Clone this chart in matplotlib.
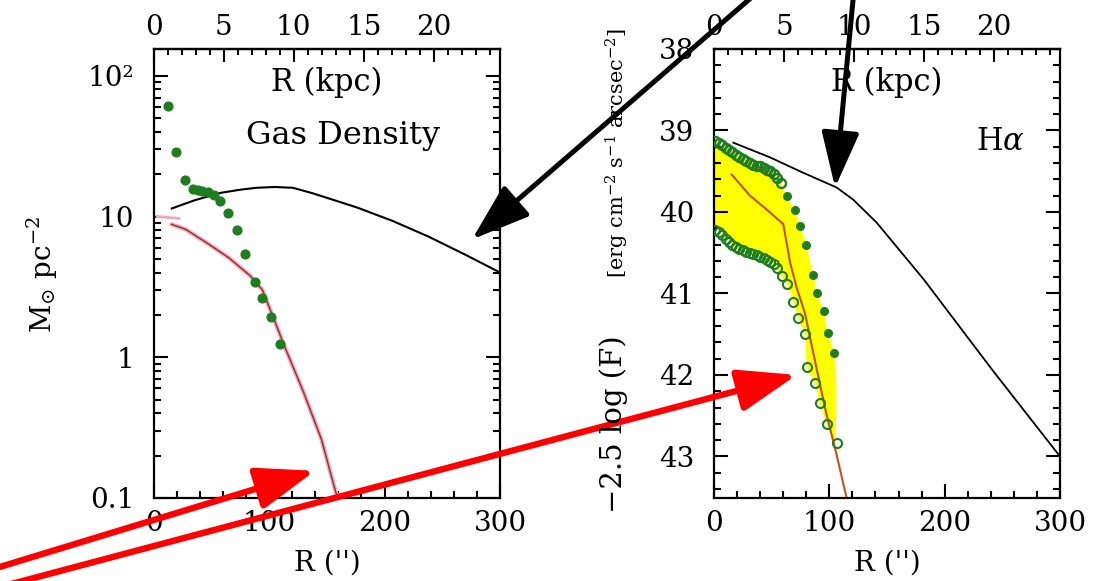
"""
Two-panel radial profile plot: gas surface density (left, log scale)
and H-alpha surface brightness (right, magnitude-like inverted axis).
"""

import numpy as np
import matplotlib
matplotlib.use("Agg")
import matplotlib.pyplot as plt
from matplotlib.ticker import MultipleLocator, FixedLocator, FixedFormatter, LogLocator, NullFormatter

plt.rcParams["font.family"] = ["DejaVu Serif"]
plt.rcParams["mathtext.fontset"] = "dejavuserif"

KPC_PER_ARCSEC = 0.0824

# ---- left panel: gas density ----
gas_r = [12.4, 19.2, 27.4, 34.4, 38.7, 41.6, 47.4, 52.6, 57.5, 64.7, 72, 79.2, 87.8, 93.6, 102, 109.5]
gas_sigma = [60.6, 28.8, 18.1, 15.7, 15.5, 15.3, 15.0, 14.3, 12.8, 10.6, 8.0, 5.4, 3.4, 2.63, 1.94, 1.25]

disk_r = [15.7, 35, 57.5, 75, 89.3, 105, 120.6, 138, 154.7, 176, 207, 238, 269, 300]
disk_sigma = [11.4, 13.0, 14.7, 15.5, 16.0, 16.2, 16.0, 14.6, 13.2, 11.6, 9.3, 7.2, 5.4, 4.0]

model_r = [15.5, 27.8, 46, 65, 83.5, 94.3, 114.4, 130, 145.4, 157.7, 160]
model_sigma = [8.8, 8.1, 6.5, 5.1, 3.8, 3.0, 1.14, 0.56, 0.26, 0.11, 0.1]

inner_r = [3, 22]
inner_sigma = [10.0, 9.7]

# ---- right panel: H-alpha ----
ha_chain_r = [1, 4, 7, 10, 13, 16, 19, 22, 25, 28, 31, 34, 37, 40, 43, 46, 49, 52, 55, 58]
ha_chain_mag = [39.13, 39.15, 39.18, 39.21, 39.24, 39.27, 39.30, 39.33, 39.35, 39.38,
                39.40, 39.42, 39.43, 39.44, 39.46, 39.48, 39.50, 39.53, 39.58, 39.64]

ha_filled_r = [63.6, 70.3, 74.7, 79.8, 85.6, 89.1, 95.5, 99.2, 104]
ha_filled_mag = [39.80, 39.98, 40.17, 40.40, 40.77, 40.99, 41.22, 41.49, 41.73]

ha_open_r = [1, 4, 7, 10, 13, 16, 19, 22, 25, 28, 31, 34, 37, 40, 43, 46, 49, 52, 55, 58.7,
             63.6, 68.8, 73.1, 78.9, 80.4, 87.6, 91.9, 97.7, 106.4]
ha_open_mag = [40.22, 40.24, 40.28, 40.33, 40.37, 40.40, 40.43, 40.45, 40.47, 40.49, 40.50,
               40.52, 40.53, 40.55, 40.57, 40.59, 40.61, 40.64, 40.69, 40.79,
               40.89, 41.10, 41.30, 41.50, 41.90, 42.10, 42.35, 42.60, 42.84]

band_top_r = [0, 5, 16, 29, 40, 49, 56, 63, 70, 75, 80, 86, 89, 95, 99, 104, 106, 106, 105]
band_top_mag = [39.12, 39.17, 39.27, 39.38, 39.44, 39.50, 39.60, 39.81, 39.97, 40.18,
                40.40, 40.77, 40.99, 41.22, 41.50, 41.72, 42.0, 42.5, 42.8]
band_bot_r = [0, 5, 16, 29, 40, 51, 58.7, 63.6, 68.8, 73.1, 78.9, 80.4, 87.6, 91.9, 97.7, 104]
band_bot_mag = [40.20, 40.21, 40.40, 40.48, 40.54, 40.62, 40.79, 40.89, 41.10, 41.30,
                41.50, 41.90, 42.10, 42.35, 42.60, 42.82]

ha_model_r = [15.3, 31.2, 45.7, 60.1, 66, 71.7, 78.8, 87.9, 97, 106, 115]
ha_model_mag = [39.54, 39.80, 39.97, 40.15, 40.62, 40.93, 41.24, 41.85, 42.45, 42.96, 43.51]

ha_disk_r = [16.8, 48.6, 77.5, 106.4, 120.8, 141, 182, 241.4, 300]
ha_disk_mag = [39.15, 39.33, 39.52, 39.70, 39.85, 40.13, 40.83, 41.94, 43.0]

GREEN = "#1e7d1e"
FS_TICK = 20
FS_TEXT = 22


def style_axes(ax):
    for sp in ax.spines.values():
        sp.set_linewidth(1.6)
    ax.tick_params(which="both", direction="in", top=False, right=True, width=1.5,
                   labelsize=FS_TICK)
    ax.tick_params(which="major", length=10)
    ax.tick_params(which="minor", length=5)
    ax.tick_params(axis="x", pad=9)
    ax.tick_params(axis="y", pad=14)
    ax.xaxis.set_major_locator(MultipleLocator(100))
    ax.xaxis.set_minor_locator(MultipleLocator(20))
    sec = ax.secondary_xaxis("top", functions=(lambda r: r * KPC_PER_ARCSEC,
                                               lambda k: k / KPC_PER_ARCSEC))
    sec.xaxis.set_major_locator(FixedLocator([0, 5, 10, 15, 20]))
    sec.xaxis.set_minor_locator(MultipleLocator(1))
    sec.tick_params(which="both", direction="in", width=1.5, labelsize=FS_TICK, pad=5.5)
    sec.tick_params(which="major", length=9)
    sec.tick_params(which="minor", length=4.5)
    sec.spines["top"].set_linewidth(1.6)
    ax.text(0.5, 0.926, "R (kpc)", transform=ax.transAxes, ha="center", va="center",
            fontsize=FS_TEXT)


fig = plt.figure(figsize=(11.09, 5.81), dpi=100)
ax1 = fig.add_axes([0.1385, 0.1429, 0.3124, 0.7728])
ax2 = fig.add_axes([0.6438, 0.1429, 0.3120, 0.7728])

# left panel
ax1.set_yscale("log")
ax1.set_xlim(0, 300)
ax1.set_ylim(0.1, 155)
style_axes(ax1)
ax1.yaxis.set_major_locator(FixedLocator([0.1, 1, 10, 100]))
ax1.yaxis.set_major_formatter(FixedFormatter(["0.1", "1", "10", "10²"]))
ax1.yaxis.set_minor_locator(LogLocator(base=10, subs=np.arange(2, 10)))
ax1.yaxis.set_minor_formatter(NullFormatter())

ax1.plot(inner_r, inner_sigma, color="#f2a8b8", lw=2)
ax1.plot(model_r, model_sigma, color="#f4b0b8", lw=3.2, solid_capstyle="round")
ax1.plot(model_r, model_sigma, color="#9c2f3a", lw=1.1)
ax1.plot(disk_r, disk_sigma, color="black", lw=1.5)
ax1.plot(gas_r, gas_sigma, "o", color=GREEN, ms=6.3, mec=GREEN)
ax1.text(0.267, 0.808, "Gas Density", transform=ax1.transAxes, ha="left", va="center",
         fontsize=23)

# right panel
ax2.set_xlim(0, 300)
ax2.set_ylim(43.51, 38)
style_axes(ax2)
ax2.yaxis.set_major_locator(MultipleLocator(1))
ax2.yaxis.set_minor_locator(MultipleLocator(0.2))

ax2.fill(np.r_[band_top_r, band_bot_r[::-1]], np.r_[band_top_mag, band_bot_mag[::-1]],
         color="#ffff00", lw=0, zorder=1)
ax2.plot(ha_model_r, ha_model_mag, color="#c4501e", lw=1.5, zorder=2)
ax2.plot(ha_chain_r, ha_chain_mag, "o", ms=6.5, mfc="none", mec=GREEN, mew=1.7, zorder=3)
ax2.plot(ha_open_r, ha_open_mag, "o", ms=6.5, mfc="none", mec=GREEN, mew=1.5, zorder=3)
ax2.plot(ha_filled_r, ha_filled_mag, "o", ms=5.5, color=GREEN, zorder=3)
ax2.plot(ha_disk_r, ha_disk_mag, color="black", lw=1.3, zorder=2)
ax2.text(0.827, 0.795, "H$\\alpha$", transform=ax2.transAxes, ha="center", va="center",
         fontsize=FS_TEXT)

# axis labels
fig.text(327 / 1109, 1 - 563 / 581, "R ('')", ha="center", va="center", fontsize=FS_TICK)
fig.text(887 / 1109, 1 - 563 / 581, "R ('')", ha="center", va="center", fontsize=FS_TICK)
fig.text(42 / 1109, 1 - 275 / 581, "M$_{\\odot}$ pc$^{-2}$", rotation=90,
         ha="center", va="center", fontsize=FS_TICK)
fig.text(614 / 1109, 1 - 424 / 581, "\u22122.5 log (F)", rotation=90,
         ha="center", va="center", fontsize=21)
fig.text(617 / 1109, 1 - 153 / 581, "[erg cm$^{-2}$ s$^{-1}$ arcsec$^{-2}$]", rotation=90,
         ha="center", va="center", fontsize=15)

# pointer arrows
black_head = "-|>,head_length=1.0,head_width=0.34"
red_head = "-|>,head_length=1.0,head_width=0.36"
ax2.annotate("", xy=(275.7, 6.87), xycoords=ax1.transData,
             xytext=(760, 591), textcoords="figure pixels", annotation_clip=False,
             arrowprops=dict(arrowstyle=black_head, mutation_scale=36, color="black",
                             lw=3.6, shrinkA=0, shrinkB=0), zorder=10)
ax2.annotate("", xy=(105, 39.70), xycoords="data",
             xytext=(854, 591), textcoords="figure pixels", annotation_clip=False,
             arrowprops=dict(arrowstyle=black_head, mutation_scale=34, color="black",
                             lw=3.6, shrinkA=0, shrinkB=0), zorder=10)
ax2.annotate("", xy=(139.8, 0.156), xycoords=ax1.transData,
             xytext=(-20, 8), textcoords="figure pixels", annotation_clip=False,
             arrowprops=dict(arrowstyle=red_head, mutation_scale=36, color="#ff0000",
                             lw=4.6, shrinkA=0, shrinkB=0), zorder=10)
ax2.annotate("", xy=(71.7, 42.0), xycoords="data",
             xytext=(0, -6), textcoords="figure pixels", annotation_clip=False,
             arrowprops=dict(arrowstyle=red_head, mutation_scale=36, color="#ff0000",
                             lw=4.6, shrinkA=0, shrinkB=0), zorder=10)

fig.savefig("out.png", dpi=100)
